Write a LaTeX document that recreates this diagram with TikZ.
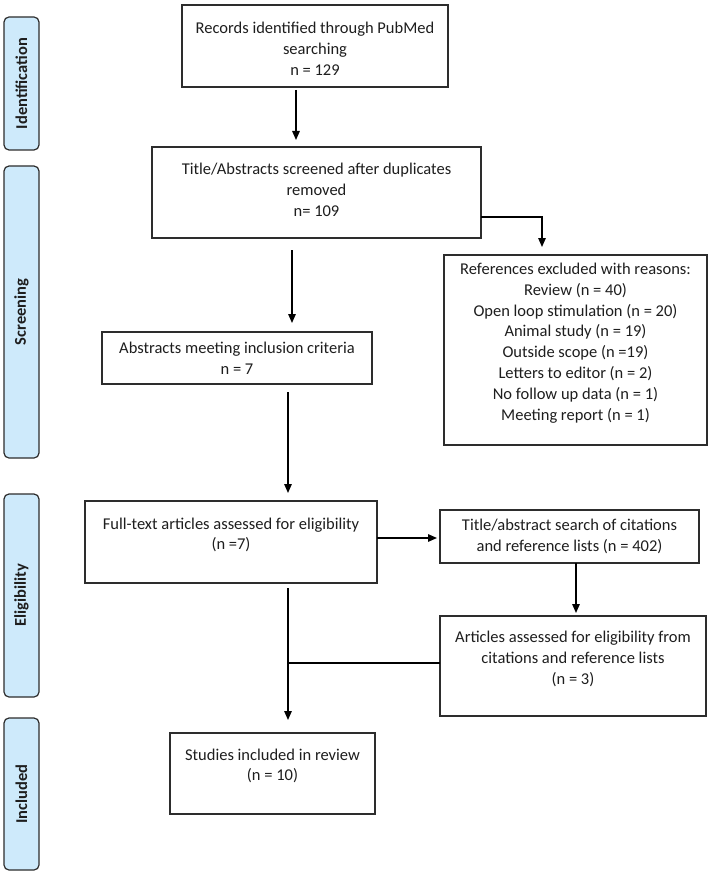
\documentclass[tikz,border=0pt]{standalone}
\usepackage{fontspec}
\setmainfont{Carlito}
\usetikzlibrary{calc,arrows.meta}
\definecolor{sidefill}{RGB}{206,234,251}
\definecolor{edge}{RGB}{45,45,45}
\definecolor{txt}{RGB}{30,30,30}
\newcommand{\bxc}[4]{\parbox[c][#2][c]{#1}{\fontsize{16.5}{20.8}\selectfont\centering #4\par\vspace*{#3}}}
\begin{document}
\begin{tikzpicture}[x=1pt,y=-1pt,
  box/.style={draw=edge, line width=1.2pt, inner sep=0pt, outer sep=0pt, anchor=north west, text=txt},
  side/.style={draw=edge, fill=sidefill, line width=1.2pt, rounded corners=5pt, rotate=90, inner sep=0pt, text=txt, font=\fontsize{16.5}{19}\selectfont\bfseries},
  arr/.style={-{Triangle[length=9pt,width=7.5pt]}, line width=1.4pt},
  conn/.style={line width=1.2pt}]
\path[use as bounding box, fill=white] (0,0) rectangle (712,885);

% phase labels
\node[side, minimum width=133pt, minimum height=35pt] (sid) at (21.5,83.5) {Identification};
\node[side, minimum width=292pt, minimum height=35pt] (sscr) at (21.5,312) {Screening};
\node[side, minimum width=203pt, minimum height=35pt] (selig) at (21.5,595.5) {Eligibility};
\node[side, minimum width=152pt, minimum height=35pt] (sinc) at (21.5,794) {Included};

% boxes
\node[box] (b1) at (182,5) {\bxc{266pt}{82pt}{-6pt}{Records identified through PubMed\\searching\\n = 129}};
\node[box] (b2) at (152,147) {\bxc{329pt}{91pt}{5pt}{Title/Abstracts screened after duplicates\\removed\\n= 109}};
\node[box] (exc) at (444,255) {\bxc{263pt}{190pt}{14pt}{References excluded with reasons:\\Review (n = 40)\\Open loop stimulation (n = 20)\\Animal study (n = 19)\\Outside scope (n =19)\\Letters to editor (n = 2)\\No follow up data (n = 1)\\Meeting report (n = 1)}};
\node[box] (abs) at (102,332) {\bxc{270pt}{52pt}{0pt}{Abstracts meeting inclusion criteria\\n = 7}};
\node[box] (ft) at (85,501) {\bxc{292pt}{82pt}{14pt}{Full-text articles assessed for eligibility\\(n =7)}};
\node[box] (srch) at (440,510) {\bxc{259pt}{53pt}{0pt}{Title/abstract search of citations\\and reference lists (n = 402)}};
\node[box] (art) at (440,616) {\bxc{266pt}{100pt}{14pt}{Articles assessed for eligibility from\\citations and reference lists\\(n = 3)}};
\node[box] (st) at (170,733) {\bxc{205pt}{81pt}{15pt}{Studies included in review\\(n = 10)}};

% connectors
\draw[arr] ($(b1.south)+(-19,3)$) -- ($(b2.north)+(-20.5,-7)$);
\draw[arr] ($(b2.south)+(-24.5,12)$) -- ($(abs.north)+(55,-9)$);
\draw[arr] ($(b2.east)+(0,24.5)$) -| ($(exc.north)+(-33.5,-8)$);
\draw[arr] ($(abs.south)+(51,8)$) -- ($(ft.north)+(57,-8)$);
\draw[arr] ($(ft.east)+(0,-4)$) -- ($(srch.west)+(-3,1.5)$);
\draw[arr] ($(srch.south)+(6.5,0)$) -- ($(art.north)+(3,-3)$);
\draw[arr] ($(ft.south)+(57,5)$) -- ($(st.north)+(15.5,-13)$);
\draw[conn] ($(art.west)+(0,-3)$) -- ($(ft.south)+(57,80)$);
\end{tikzpicture}
\end{document}
